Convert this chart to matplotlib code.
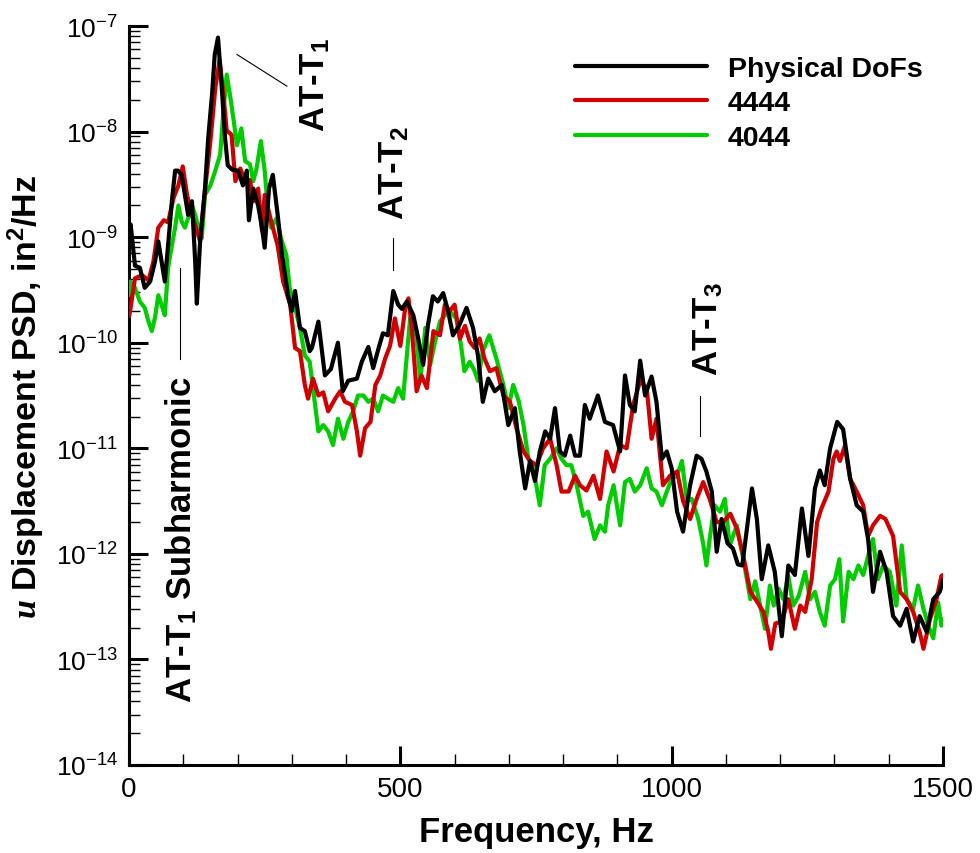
import numpy as np
import matplotlib
matplotlib.use("Agg")
import matplotlib.pyplot as plt
from matplotlib.ticker import FixedLocator, LogLocator, FuncFormatter, NullFormatter, MultipleLocator

plt.rcParams['font.family'] = ['Liberation Sans', 'DejaVu Sans']
plt.rcParams['mathtext.fontset'] = 'custom'
plt.rcParams['mathtext.rm'] = 'Liberation Sans'
plt.rcParams['mathtext.it'] = 'Liberation Sans:italic'
plt.rcParams['mathtext.bf'] = 'Liberation Sans:bold'
try:
    plt.rcParams['mathtext.bfit'] = 'Liberation Serif:italic:bold'
except KeyError:
    pass

# ---------------- data (frequency in Hz, log10 of PSD in in^2/Hz) ----------------
black_freq = [0, 3, 11, 20, 29, 39, 48, 54, 60, 66, 72, 79, 85, 90, 97, 103, 109, 116, 122, 125,
              131, 140, 146, 153, 158, 164, 171, 177, 182, 190, 201, 210, 217, 221, 229, 238, 245, 250,
              258, 265, 274, 282, 293, 300, 306, 315, 324, 333, 337, 349, 361, 372, 385, 394, 404, 420,
              429, 441, 450, 460, 468, 477, 487, 496, 503, 512, 524, 533, 542, 551, 560, 569, 579, 588,
              597, 609, 622, 634, 643, 652, 662, 674, 687, 699, 711, 720, 730, 739, 748, 757, 767, 776,
              785, 794, 803, 813, 822, 831, 840, 849, 864, 877, 892, 905, 914, 923, 932, 942, 951, 963,
              972, 982, 991, 1000, 1010, 1021, 1034, 1046, 1055, 1064, 1074, 1083, 1092, 1103, 1113,
              1122, 1130, 1138, 1148, 1157, 1166, 1178, 1190, 1203, 1215, 1227, 1240, 1252, 1264, 1273,
              1282, 1292, 1305, 1316, 1329, 1341, 1353, 1362, 1371, 1384, 1396, 1408, 1421, 1433, 1445,
              1457, 1470, 1482, 1494, 1500]
black_log10_psd = [-8.95, -8.88, -9.27, -9.29, -9.48, -9.42, -9.23, -9.04, -9.23, -9.42, -9.08, -8.66,
                   -8.37, -8.37, -8.41, -8.60, -8.79, -8.66, -9.23, -9.63, -9.04, -8.54, -8.06, -7.65,
                   -7.27, -7.11, -7.59, -8.06, -8.32, -8.36, -8.37, -8.51, -8.37, -8.84, -8.54, -8.70,
                   -8.91, -9.10, -8.54, -8.41, -8.79, -9.17, -9.55, -9.70, -9.51, -9.86, -9.89, -10.08,
                   -10.05, -9.80, -10.31, -10.25, -10.00, -10.46, -10.36, -10.34, -10.18, -10.04, -10.24,
                   -10.05, -9.91, -9.93, -9.51, -9.64, -9.68, -9.61, -9.74, -9.96, -10.21, -9.83, -9.56,
                   -9.61, -9.53, -9.70, -9.93, -9.83, -9.67, -9.86, -10.12, -10.56, -10.34, -10.46,
                   -10.40, -10.78, -10.62, -11.03, -11.38, -11.12, -11.31, -11.03, -10.84, -10.91,
                   -10.62, -11.03, -11.07, -10.88, -11.07, -11.07, -10.59, -10.72, -10.50, -10.75,
                   -10.78, -11.03, -10.31, -10.59, -10.65, -10.17, -10.50, -10.32, -10.56, -11.10,
                   -11.03, -11.19, -11.60, -11.79, -11.35, -11.07, -11.10, -11.22, -11.41, -11.98,
                   -11.67, -11.90, -11.95, -12.10, -12.11, -11.79, -11.38, -11.67, -12.24, -11.92,
                   -12.17, -12.78, -12.11, -12.20, -11.57, -12.02, -11.38, -11.21, -11.35, -11.00,
                   -10.75, -10.82, -11.29, -11.54, -11.60, -11.86, -12.36, -11.98, -12.17, -12.59,
                   -12.68, -12.52, -12.83, -12.59, -12.74, -12.43, -12.36, -12.25]

red_freq = [0, 2, 11, 24, 36, 45, 54, 64, 72, 82, 91, 99, 107, 116, 125, 131, 140, 150, 159, 167,
            174, 180, 189, 196, 205, 214, 223, 229, 238, 245, 250, 262, 274, 284, 297, 306, 315, 324,
            330, 339, 349, 358, 367, 380, 389, 398, 411, 420, 426, 435, 445, 454, 463, 472, 481, 490,
            500, 509, 515, 521, 530, 539, 549, 561, 573, 582, 591, 600, 610, 619, 628, 637, 646, 655,
            665, 677, 690, 702, 714, 727, 739, 751, 763, 776, 788, 797, 810, 822, 831, 843, 856, 868,
            880, 893, 905, 917, 929, 942, 954, 963, 972, 984, 997, 1010, 1021, 1034, 1046, 1058, 1070,
            1083, 1095, 1108, 1120, 1132, 1145, 1157, 1169, 1178, 1183, 1191, 1203, 1215, 1227, 1237,
            1246, 1258, 1268, 1276, 1289, 1298, 1304, 1310, 1319, 1329, 1341, 1353, 1362, 1371, 1384,
            1394, 1408, 1421, 1433, 1445, 1457, 1464, 1476, 1488, 1497, 1500]
red_log10_psd = [-9.75, -9.70, -9.39, -9.36, -9.41, -9.23, -8.91, -8.84, -8.86, -8.63, -8.51, -8.33,
                 -8.60, -8.79, -8.94, -9.04, -8.56, -8.09, -7.59, -7.32, -7.65, -7.99, -8.03, -8.47,
                 -8.35, -8.47, -8.46, -8.66, -8.54, -8.94, -8.60, -8.85, -9.08, -9.42, -9.64, -10.05,
                 -10.08, -10.40, -10.53, -10.34, -10.50, -10.47, -10.65, -10.53, -10.46, -10.56,
                 -10.59, -10.84, -11.07, -10.81, -10.75, -10.40, -10.31, -10.15, -10.03, -9.77,
                 -10.03, -9.67, -9.58, -9.86, -10.46, -10.31, -10.43, -9.89, -9.93, -9.64, -9.70,
                 -9.64, -9.96, -9.84, -9.99, -10.05, -9.96, -10.15, -10.27, -10.24, -10.50, -10.56,
                 -10.81, -11.03, -11.12, -11.16, -11.00, -10.91, -11.16, -11.41, -11.41, -11.26,
                 -11.35, -11.40, -11.26, -11.48, -11.03, -11.22, -10.97, -11.00, -10.59, -10.36,
                 -10.43, -10.91, -10.72, -11.35, -11.26, -11.22, -11.50, -11.67, -11.48, -11.32,
                 -11.48, -11.70, -11.70, -11.62, -11.76, -12.02, -12.36, -12.45, -12.55, -12.74,
                 -12.90, -12.66, -12.64, -12.43, -12.71, -12.49, -12.55, -12.24, -11.70, -11.57,
                 -11.41, -11.10, -11.03, -11.12, -10.98, -11.29, -11.41, -11.54, -11.83, -11.73,
                 -11.64, -11.67, -11.83, -12.36, -12.43, -12.55, -12.74, -12.90, -12.62, -12.43,
                 -12.21, -12.20]

green_freq = [0, 2, 11, 20, 29, 36, 42, 48, 54, 60, 66, 72, 79, 85, 91, 97, 103, 109, 116, 122, 128,
              134, 140, 150, 159, 168, 174, 180, 186, 193, 199, 207, 214, 223, 229, 235, 243, 250, 256,
              262, 272, 280, 290, 296, 306, 315, 324, 333, 339, 349, 358, 367, 376, 385, 395, 404, 413,
              422, 432, 441, 450, 459, 468, 477, 487, 496, 505, 511, 518, 524, 530, 537, 546, 555, 564,
              573, 582, 594, 603, 612, 618, 628, 637, 643, 652, 664, 677, 690, 699, 708, 718, 727, 736,
              745, 757, 766, 776, 788, 797, 806, 815, 825, 837, 846, 858, 868, 877, 883, 893, 905, 914,
              923, 932, 942, 954, 963, 972, 982, 991, 1000, 1010, 1019, 1028, 1037, 1049, 1058, 1064,
              1070, 1079, 1089, 1098, 1107, 1120, 1132, 1145, 1154, 1163, 1172, 1181, 1188, 1197, 1206,
              1215, 1224, 1234, 1246, 1255, 1264, 1273, 1282, 1292, 1301, 1309, 1316, 1326, 1335, 1344,
              1353, 1362, 1371, 1380, 1390, 1402, 1414, 1424, 1433, 1445, 1454, 1464, 1473, 1482, 1491,
              1497, 1500]
green_log10_psd = [-9.55, -9.42, -9.48, -9.61, -9.67, -9.80, -9.89, -9.76, -9.55, -9.64, -9.74, -9.29,
                   -9.08, -8.91, -8.70, -8.85, -8.91, -8.82, -8.70, -8.79, -8.91, -9.01, -8.60, -8.51,
                   -8.37, -8.22, -7.80, -7.46, -7.65, -7.90, -8.13, -7.97, -8.28, -8.31, -8.47, -8.35,
                   -8.09, -8.37, -8.73, -8.91, -8.82, -9.01, -9.17, -9.48, -9.67, -9.86, -10.12,
                   -10.18, -10.43, -10.84, -10.78, -10.84, -10.97, -10.72, -10.91, -10.75, -10.65,
                   -10.50, -10.50, -10.56, -10.53, -10.65, -10.50, -10.53, -10.56, -10.43, -10.53,
                   -10.18, -9.77, -9.80, -9.96, -10.36, -9.86, -10.21, -9.99, -9.80, -9.74, -9.72,
                   -9.77, -10.03, -10.27, -10.18, -10.27, -10.36, -10.08, -9.93, -10.15, -10.40,
                   -10.62, -10.40, -10.55, -10.78, -11.10, -11.19, -11.54, -11.16, -11.10, -11.00,
                   -11.10, -11.16, -11.16, -11.35, -11.64, -11.60, -11.86, -11.73, -11.79, -11.54,
                   -11.35, -11.73, -11.32, -11.29, -11.41, -11.35, -11.19, -11.38, -11.41, -11.54,
                   -11.41, -11.29, -11.26, -11.12, -11.50, -11.48, -11.67, -11.90, -12.11, -11.86,
                   -11.54, -11.60, -11.48, -11.92, -11.73, -12.05, -12.43, -12.26, -12.49, -12.71,
                   -12.30, -12.49, -12.33, -12.43, -12.21, -12.49, -12.40, -12.17, -12.43, -12.36,
                   -12.55, -12.68, -12.30, -12.24, -12.05, -12.64, -12.17, -12.24, -12.11, -12.20,
                   -12.02, -11.86, -12.24, -12.11, -12.17, -12.49, -11.92, -12.43, -12.52, -12.30,
                   -12.52, -12.68, -12.80, -12.46, -12.68, -12.62]

series_labels = ["Physical DoFs", "4444", "4044"]
series_colors = ["#000000", "#D00000", "#00CC00"]

x_major_ticks = [0, 500, 1000, 1500]

# ---------------- figure ----------------
fig = plt.figure(figsize=(9.8, 8.54), dpi=100)
ax = fig.add_axes([129 / 980, 88 / 854, (943 - 129) / 980, (766 - 27) / 854])

series = [(black_freq, black_log10_psd), (red_freq, red_log10_psd), (green_freq, green_log10_psd)]
order = [2, 1, 0]
lines = {}
for i in order:
    f, lg = series[i]
    ln, = ax.plot(f, 10.0 ** np.array(lg), color=series_colors[i], lw=3.0,
                  label=series_labels[i], solid_joinstyle='round', solid_capstyle='round',
                  zorder=3 + (2 - i))
    lines[i] = ln

ax.set_xlim(0, 1500)
ax.set_yscale('log')
ax.set_ylim(1e-14, 1e-7)

ax.xaxis.set_major_locator(FixedLocator(x_major_ticks))
ax.xaxis.set_minor_locator(MultipleLocator(100))
ax.yaxis.set_major_locator(LogLocator(base=10, numticks=20))
ax.yaxis.set_minor_locator(LogLocator(base=10, subs=np.arange(2, 10), numticks=20))
ax.yaxis.set_minor_formatter(NullFormatter())
ax.yaxis.set_major_formatter(FuncFormatter(lambda v, p: r"$10^{%d}$" % int(round(np.log10(v)))))

for s in ['top', 'right']:
    ax.spines[s].set_visible(False)
for s in ['left', 'bottom']:
    ax.spines[s].set_linewidth(2.2)

ax.tick_params(which='major', direction='in', length=14, width=2.2, pad=8)
ax.tick_params(axis='x', which='major', labelsize=20)
ax.tick_params(axis='y', which='major', labelsize=19)
ax.tick_params(which='minor', direction='in', length=8, width=1.0)
ax.tick_params(axis='both', which='both', top=False, right=False)

ax.set_xlabel("Frequency, Hz", fontsize=25, fontweight='bold', labelpad=9)
ax.set_ylabel(r"$\mathbfit{u}$ Displacement PSD, in$^\mathbf{2}$/Hz", fontsize=24.5,
              fontweight='bold', labelpad=6)

leg = ax.legend(handles=[lines[0], lines[1], lines[2]], loc='upper left',
                bbox_to_anchor=((575 - 129) / 814, (766 - 57) / 739), frameon=False,
                prop={'weight': 'bold', 'size': 20.5}, handlelength=4.63, handletextpad=0.74,
                labelspacing=0.29, borderaxespad=0.0, borderpad=0.0)

# ---------------- annotations ----------------
ann_kw = dict(rotation=90, ha='center', va='center', fontsize=25, fontweight='bold', zorder=6)
ax.text(343, 10 ** -7.55, r"AT-T$_\mathbf{1}$", **ann_kw)
ax.plot([199, 291], [10 ** -7.27, 10 ** -7.57], color='black', lw=0.8)
ax.text(488, 10 ** -8.38, r"AT-T$_\mathbf{2}$", **ann_kw)
ax.plot([486, 486], [10 ** -9.01, 10 ** -9.31], color='black', lw=0.8)
ax.text(1067, 10 ** -9.86, r"AT-T$_\mathbf{3}$", **ann_kw)
ax.plot([1052, 1052], [10 ** -10.50, 10 ** -10.88], color='black', lw=0.8)
ax.text(96, 10 ** -11.86, r"AT-T$_\mathbf{1}$ Subharmonic", **ann_kw)
ax.plot([94, 94], [10 ** -9.29, 10 ** -10.15], color='black', lw=0.8)

fig.savefig("out.png", dpi=100)
